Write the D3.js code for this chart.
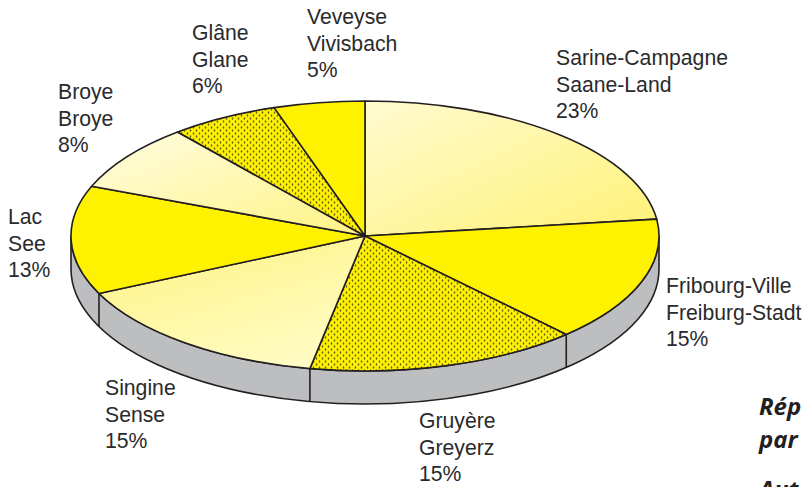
<!DOCTYPE html>
<html>
<head>
<meta charset="utf-8">
<script src="https://cdn.jsdelivr.net/npm/d3@7"></script>
<style>
  html, body { margin: 0; padding: 0; background: #fff; overflow: hidden; }
  svg { display: block; }
  .lab { font-family: "Liberation Sans", Arial, sans-serif; font-size: 21.2px; fill: #2a2a2c; }
  .cut { font-family: "Open Sans", sans-serif; font-size: 24px; font-weight: 700; font-style: italic; fill: #231f20; }
</style>
</head>
<body>
<div id="chart"></div>
<script>
// values
var namesFr = ["Sarine-Campagne", "Fribourg-Ville", "Gruyère", "Singine", "Lac", "Broye", "Glâne", "Veveyse"];
var namesDe = ["Saane-Land", "Freiburg-Stadt", "Greyerz", "Sense", "See", "Broye", "Glane", "Vivisbach"];
var shares = [23, 15, 15, 15, 13, 8, 6, 5];
var fills = ["url(#lightA)", "#fff200", "url(#dots)", "url(#lightB)", "#fff200", "url(#lightC)", "url(#dots)", "#fff200"];
var labelX = [556, 666, 419, 105, 8, 58, 192, 307];
var labelY = [65, 293, 428, 395, 224, 99, 40, 24];
var cutText = ["Rép", "par", "Aut"];
var cutY = [415, 447.5, 498];

var width = 802, height = 487;
var cx = 365, cy = 236, rx = 294, ry = 135, depth = 33;

var svg = d3.select("#chart").append("svg")
    .attr("width", width)
    .attr("height", height);

var x = d3.scaleLinear().domain([-1, 1]).range([cx - rx, cx + rx]);
var y = d3.scaleLinear().domain([-1, 1]).range([cy - ry, cy + ry]);

function ptX(a) { return x(Math.sin(a)); }
function ptY(a) { return y(-Math.cos(a)); }

var defs = svg.append("defs");

function gradient(id, x1, y1, x2, y2, c1, c2) {
  var g = defs.append("linearGradient")
    .attr("id", id)
    .attr("x1", x1).attr("y1", y1)
    .attr("x2", x2).attr("y2", y2);
  g.append("stop").attr("offset", "0%").attr("stop-color", c1);
  g.append("stop").attr("offset", "100%").attr("stop-color", c2);
}
gradient("lightA", 0, 0, 1, 1, "#fffbd0", "#fff176");
gradient("lightB", 0.15, 0, 0.7, 1, "#fff385", "#fffcc4");
gradient("lightC", 0, 0, 1, 1, "#fffde2", "#fff384");

// staggered dots for the hatched slices
var dots = defs.append("pattern")
    .attr("id", "dots")
    .attr("patternUnits", "userSpaceOnUse")
    .attr("width", 6)
    .attr("height", 6);
dots.append("rect").attr("width", 6).attr("height", 6).attr("fill", "#fff200");
dots.selectAll("ellipse")
  .data([[1.5, 1.5], [4.5, 4.5]])
  .enter().append("ellipse")
    .attr("cx", function(d) { return d[0]; })
    .attr("cy", function(d) { return d[1]; })
    .attr("rx", 0.8)
    .attr("ry", 1.2)
    .attr("fill", "#6b6413");

var pie = d3.pie().sort(null)(shares);

// side wall of the disc
var wall = "M" + x(-1) + "," + cy +
  "A" + rx + "," + ry + " 0 0 0 " + x(1) + "," + cy +
  "L" + x(1) + "," + (cy + depth) +
  "A" + rx + "," + ry + " 0 0 1 " + x(-1) + "," + (cy + depth) + "Z";
svg.append("path")
    .attr("d", wall)
    .attr("fill", "#bcbec0")
    .attr("stroke", "#231f20")
    .attr("stroke-width", 1.6)
    .attr("stroke-linejoin", "round");

// wall separators where a slice edge is on the front
svg.append("g").selectAll("line")
  .data(pie.filter(function(d) {
    return Math.cos(d.endAngle) < 0 && d.endAngle < 2 * Math.PI;
  }))
  .enter().append("line")
    .attr("x1", function(d) { return ptX(d.endAngle); })
    .attr("y1", function(d) { return ptY(d.endAngle); })
    .attr("x2", function(d) { return ptX(d.endAngle); })
    .attr("y2", function(d) { return ptY(d.endAngle) + depth; })
    .attr("stroke", "#231f20")
    .attr("stroke-width", 1.6);

// top of the disc
svg.append("g").selectAll("path")
  .data(pie)
  .enter().append("path")
    .attr("d", function(d) {
      var large = d.endAngle - d.startAngle > Math.PI ? 1 : 0;
      return "M" + cx + "," + cy +
        "L" + ptX(d.startAngle) + "," + ptY(d.startAngle) +
        "A" + rx + "," + ry + " 0 " + large + " 1 " + ptX(d.endAngle) + "," + ptY(d.endAngle) + "Z";
    })
    .attr("fill", function(d, i) { return fills[i]; })
    .attr("stroke", "#231f20")
    .attr("stroke-width", 1.6)
    .attr("stroke-linejoin", "round");

// labels
var labels = svg.append("g").selectAll("text")
  .data(shares)
  .enter().append("text")
    .attr("class", "lab")
    .attr("x", function(d, i) { return labelX[i]; })
    .attr("y", function(d, i) { return labelY[i]; });

labels.each(function(d, i) {
  var t = d3.select(this);
  [namesFr[i], namesDe[i], d + "%"].forEach(function(line, k) {
    t.append("tspan")
      .attr("x", labelX[i])
      .attr("y", labelY[i] + k * 26.5)
      .text(line);
  });
});

// heading of the page, cut by the edge of the picture
svg.append("g").selectAll("text")
  .data(cutText)
  .enter().append("text")
    .attr("class", "cut")
    .attr("x", 759)
    .attr("y", function(d, i) { return cutY[i]; })
    .text(function(d) { return d; });
</script>
</body>
</html>
